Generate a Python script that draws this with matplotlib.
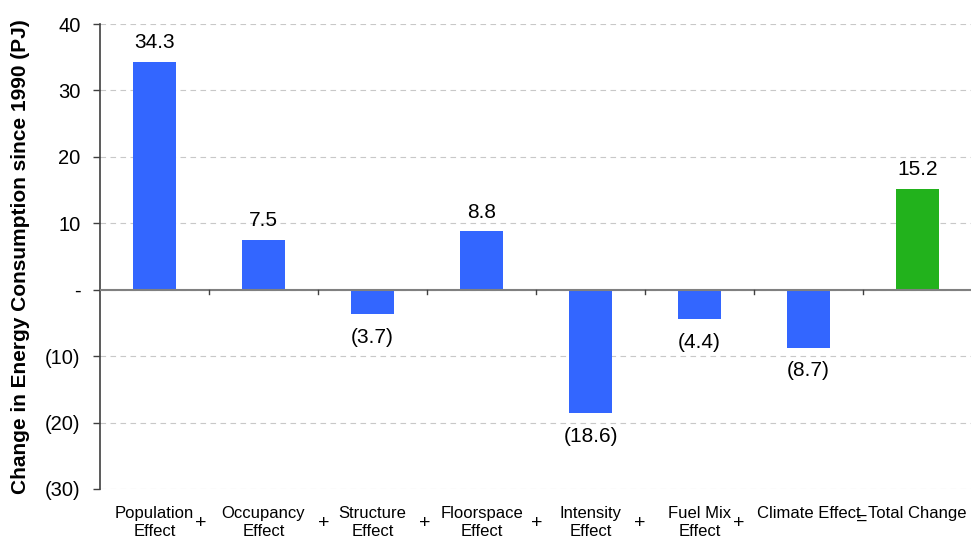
import matplotlib.pyplot as plt
from matplotlib import transforms

plt.rcParams['font.family'] = ['Liberation Sans', 'DejaVu Sans']

categories = ['Population\nEffect', 'Occupancy\nEffect', 'Structure\nEffect', 'Floorspace\nEffect',
              'Intensity\nEffect', 'Fuel Mix\nEffect', 'Climate Effect', 'Total Change']
values = [34.3, 7.5, -3.7, 8.8, -18.6, -4.4, -8.7, 15.2]
colors = ['#3366ff'] * 7 + ['#22b21c']
ytick_vals = [40, 30, 20, 10, 0, -10, -20, -30]
ytick_labels = ['40', '30', '20', '10', '-', '(10)', '(20)', '(30)']
# operators between category names, with their x spot in category units
ops = ['+', '+', '+', '+', '+', '+', '=']
op_x = [0.42, 1.55, 2.48, 3.51, 4.45, 5.36, 6.49]

fig = plt.figure(figsize=(9.71, 5.4), dpi=100)
ax = fig.add_axes([100 / 971, 51 / 540, 872 / 971, 465 / 540])

x = list(range(len(values)))
ax.bar(x, values, width=0.4, color=colors, zorder=3)

ax.set_xlim(-0.5, len(values) - 0.5)
ax.set_ylim(-30, 40)
ax.set_yticks(ytick_vals)
ax.set_yticklabels(ytick_labels, fontsize=14.5)
ax.yaxis.grid(True, linestyle=(0, (5, 4)), color='#c8c8c8', linewidth=0.8, zorder=0)
ax.tick_params(axis='y', direction='out', length=5, width=1, color='#404040', pad=9)
ax.set_ylabel('Change in Energy Consumption since 1990 (PJ)', fontsize=15,
              fontweight='bold', labelpad=11)

for s in ['top', 'right', 'bottom']:
    ax.spines[s].set_visible(False)
ax.spines['left'].set_color('#404040')
ax.spines['left'].set_linewidth(1.2)

# zero line with short category separators below it
ax.axhline(0, color='#808080', linewidth=1.5, zorder=4)
for b in range(1, len(values)):
    ax.plot([b - 0.5, b - 0.5], [0, -0.7], color='#404040', linewidth=1, zorder=4)

ax.set_xticks(x)
ax.set_xticklabels(categories, fontsize=12, linespacing=1.25)
ax.tick_params(axis='x', length=0, pad=12)

trans = transforms.blended_transform_factory(ax.transData, ax.transAxes)
for ox, op in zip(op_x, ops):
    dy = -0.066 if op == '=' else -0.074
    ax.text(ox, dy, op, transform=trans, ha='center', va='center', fontsize=14)

for xi, v in zip(x, values):
    if v >= 0:
        ax.annotate(f'{v:.1f}', (xi, v), xytext=(0, 7), textcoords='offset points',
                    ha='center', va='bottom', fontsize=15)
    else:
        ax.annotate(f'({abs(v):.1f})', (xi, v), xytext=(0, -10), textcoords='offset points',
                    ha='center', va='top', fontsize=15)

fig.savefig('out.png', dpi=100)
